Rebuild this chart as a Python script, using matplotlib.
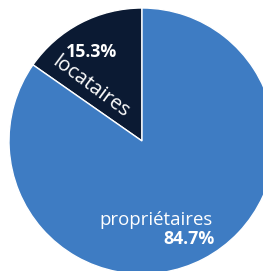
import matplotlib
matplotlib.use("Agg")
import matplotlib.pyplot as plt

labels = ["locataires", "propriétaires"]
values = [15.3, 84.7]
pct_labels = ["15.3%", "84.7%"]
colors = ["#0b1a33", "#3e7cc3"]

W, H = 263, 271
fig = plt.figure(figsize=(W / 100, H / 100), dpi=100)
ax = fig.add_axes([0, 0, 1, 1])

cx, cy, r = 142, H - 141, 133
ax.pie(values, colors=colors, startangle=90, counterclock=True,
       center=(cx, cy), radius=r, frame=True,
       wedgeprops=dict(edgecolor="white", linewidth=1.0))
ax.set_xlim(0, W)
ax.set_ylim(0, H)
ax.set_aspect("equal")
ax.axis("off")

fam = ["Open Sans", "DejaVu Sans"]
ax.text(92, H - 52, pct_labels[0], color="white", fontsize=12.8,
        fontweight="bold", family=fam, ha="center", va="center")
ax.text(91, H - 87, labels[0], color="white", fontsize=14.5,
        family=fam, ha="center", va="center", rotation=-36.5,
        rotation_mode="anchor")
ax.text(156, H - 220, labels[1], color="white", fontsize=13.4,
        family=fam, ha="center", va="center")
ax.text(189, H - 239, pct_labels[1], color="white", fontsize=12.8,
        fontweight="bold", family=fam, ha="center", va="center")

fig.savefig("out.png", dpi=100)
